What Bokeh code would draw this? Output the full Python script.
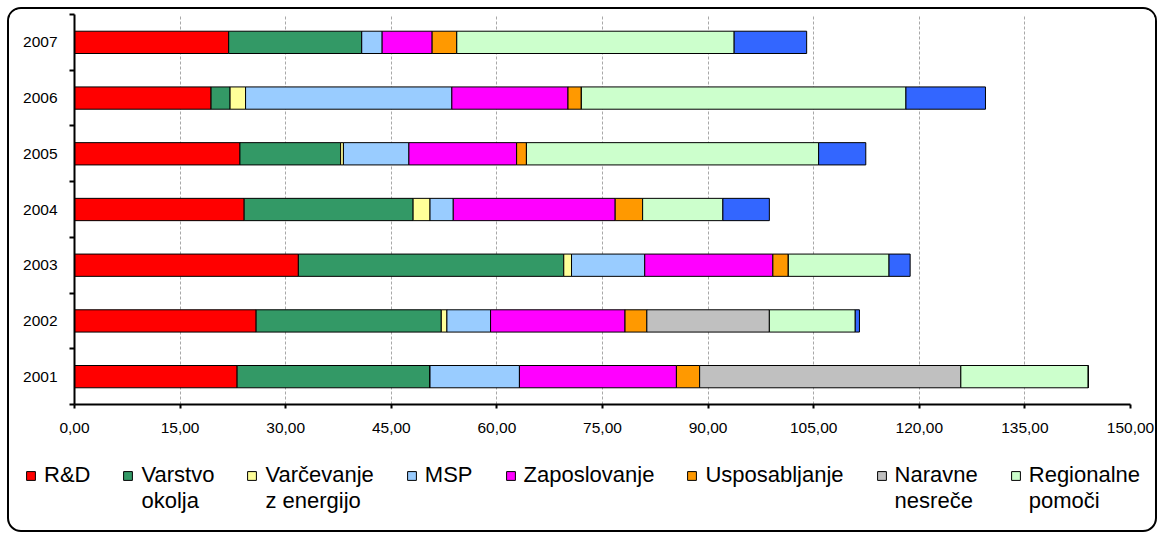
from bokeh.plotting import figure
from bokeh.layouts import column
from bokeh.models import (ColumnDataSource, Range1d, FixedTicker, Legend, LegendItem)
from bokeh.embed import file_html
from bokeh.resources import INLINE

# ---- data ----
years = ["2001", "2002", "2003", "2004", "2005", "2006", "2007"]
series_keys = ["rd", "okolje", "energija", "msp", "zaposlovanje",
               "usposabljanje", "nesrece", "regionalne", "ostalo"]
series_labels = ["R&D", "Varstvo\nokolja", "Varčevanje\nz energijo", "MSP",
                 "Zaposlovanje", "Usposabljanje", "Naravne\nnesreče",
                 "Regionalne\npomoči", "Ostalo"]
colors = ["#FF0000", "#339966", "#FFFF99", "#99CCFF", "#FF00FF",
          "#FF9900", "#C0C0C0", "#CCFFCC", "#3366FF"]

rd            = [23.1, 25.8, 31.8, 24.1, 23.5, 19.4, 21.9]
okolje        = [27.4, 26.3, 37.7, 24.0, 14.3, 2.7, 18.9]
energija      = [0.0, 0.8, 1.1, 2.4, 0.4, 2.2, 0.0]
msp           = [12.7, 6.2, 10.4, 3.3, 9.3, 29.3, 2.9]
zaposlovanje  = [22.3, 19.1, 18.2, 23.0, 15.3, 16.5, 7.1]
usposabljanje = [3.3, 3.1, 2.2, 3.9, 1.4, 1.9, 3.5]
nesrece       = [37.1, 17.4, 0.0, 0.0, 0.0, 0.0, 0.0]
regionalne    = [18.1, 12.2, 14.3, 11.4, 41.5, 46.1, 39.4]
ostalo        = [0.0, 0.6, 3.0, 6.6, 6.7, 11.3, 10.3]

x_ticks = [0, 15, 30, 45, 60, 75, 90, 105, 120, 135, 150]
x_tick_labels = ["0,00", "15,00", "30,00", "45,00", "60,00", "75,00",
                 "90,00", "105,00", "120,00", "135,00", "150,00"]

# ---- build ----
ypos = [i + 0.5 for i in range(len(years))]
data = dict(y=ypos, rd=rd, okolje=okolje, energija=energija, msp=msp,
            zaposlovanje=zaposlovanje, usposabljanje=usposabljanje,
            nesrece=nesrece, regionalne=regionalne, ostalo=ostalo)
source = ColumnDataSource(data)

FONT = "Liberation Sans"
W = 1146

p = figure(width=W, height=431, output_backend="svg", toolbar_location=None,
           x_range=Range1d(0, 150), y_range=Range1d(0, len(years)),
           min_border_left=65, min_border_right=25, min_border_top=5,
           min_border_bottom=36)
p.frame_align = False
p.outline_line_color = None
p.background_fill_color = "white"
p.border_fill_color = "white"

renderers = p.hbar_stack(series_keys, y="y", height=0.4, color=colors,
                         line_color="black", line_width=1, source=source)

# x axis
p.xaxis.ticker = FixedTicker(ticks=x_ticks)
p.xaxis.major_label_overrides = {t: l for t, l in zip(x_ticks, x_tick_labels)}
p.xaxis.axis_line_width = 2
p.xaxis.axis_line_color = "black"
p.xaxis.major_tick_line_width = 2
p.xaxis.major_tick_in = 0
p.xaxis.major_tick_out = 4
p.xaxis.minor_tick_line_color = None
p.xaxis.major_label_text_font = FONT
p.xaxis.major_label_text_font_size = "15.5px"
p.xaxis.major_label_text_color = "black"
p.xaxis.major_label_standoff = 14

# y axis
p.yaxis.ticker = FixedTicker(ticks=ypos, minor_ticks=list(range(len(years) + 1)))
p.yaxis.major_label_overrides = {y: l for y, l in zip(ypos, years)}
p.yaxis.axis_line_width = 2
p.yaxis.axis_line_color = "black"
p.yaxis.major_tick_line_color = None
p.yaxis.major_tick_in = 0
p.yaxis.major_tick_out = 0
p.yaxis.minor_tick_line_width = 2
p.yaxis.minor_tick_line_color = "black"
p.yaxis.minor_tick_in = 0
p.yaxis.minor_tick_out = 5
p.yaxis.major_label_text_font = FONT
p.yaxis.major_label_text_font_size = "15.5px"
p.yaxis.major_label_text_color = "black"
p.yaxis.major_label_standoff = 12

# grid
p.ygrid.grid_line_color = None
p.xgrid.grid_line_color = "#a8a8a8"
p.xgrid.grid_line_dash = "3 2"
p.xgrid.grid_line_width = 1

# ---- legend strip: same series, drawn outside its visible range ----
pl = figure(width=W, height=98, output_backend="svg", toolbar_location=None,
            x_range=Range1d(0, 1), y_range=Range1d(100, 101),
            x_axis_type=None, y_axis_type=None,
            min_border_left=0, min_border_right=0, min_border_top=0,
            min_border_bottom=0)
pl.frame_align = False
pl.styles = {"margin-top": "-8px"}
pl.outline_line_color = None
pl.background_fill_color = None
pl.border_fill_color = None
pl.grid.grid_line_color = None
leg_renderers = pl.hbar_stack(series_keys, y="y", height=0.4, color=colors,
                              line_color="black", line_width=1, source=source)

# a blank line above and (if needed) below keeps each swatch on the first text line
NB = "\u00a0"
legend_labels = [NB + "\n" + (l if "\n" in l else l + "\n" + NB)
                 for l in series_labels[:8]]
legend = Legend(
    items=[LegendItem(label=lbl, renderers=[r])
           for lbl, r in zip(legend_labels, leg_renderers[:8])],
    orientation="horizontal", location=(16, 16),
    label_text_font=FONT, label_text_font_size="22px",
    label_text_color="black", label_text_line_height=1.14,
    glyph_width=11, glyph_height=11, label_standoff=8, spacing=32,
    padding=0, margin=0, border_line_color=None, background_fill_alpha=0,
)
pl.add_layout(legend, "center")

layout = column(p, pl, spacing=0,
                styles={"border": "2px solid black", "border-radius": "14px",
                        "margin-left": "7px", "margin-top": "7px",
                        "overflow": "hidden", "background-color": "white"})

open("out.html", "w").write(file_html(layout, INLINE))
